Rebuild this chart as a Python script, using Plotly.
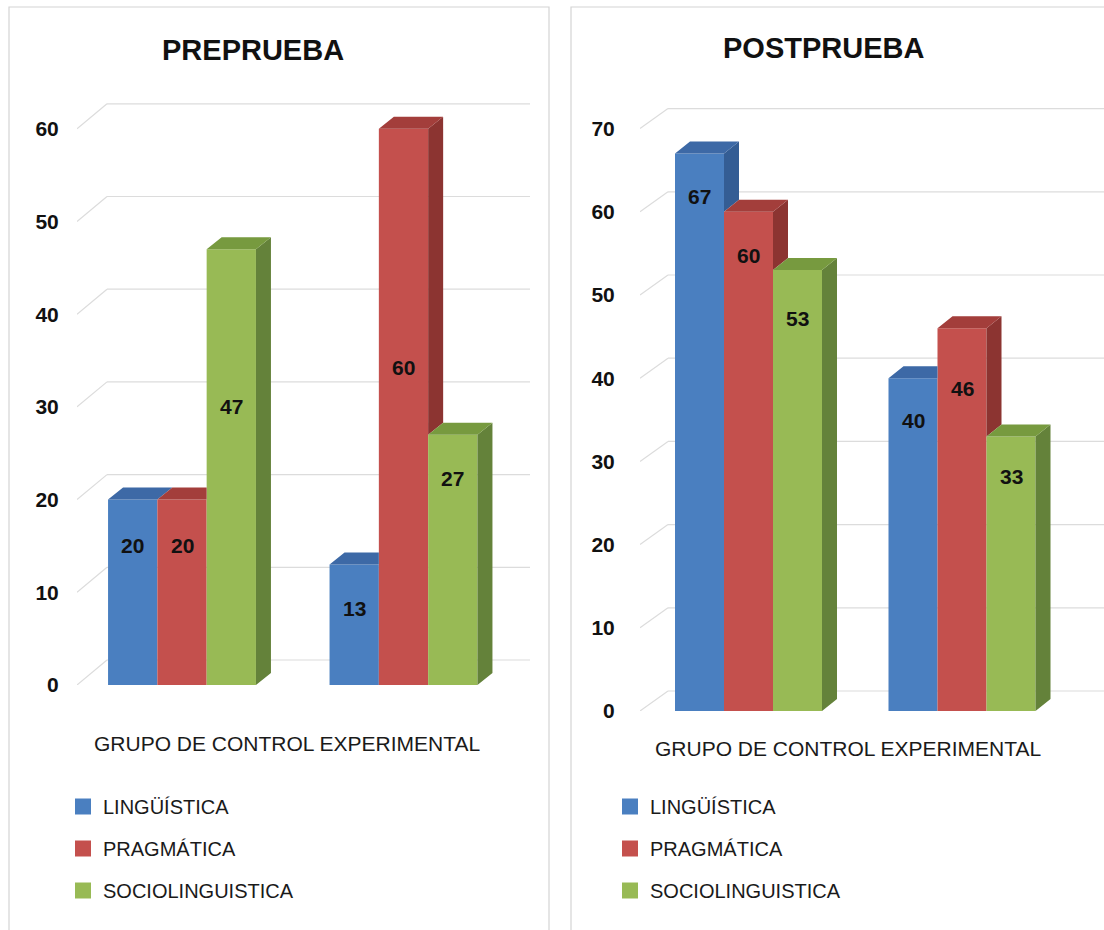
import plotly.graph_objects as go

# ---------------- data ----------------
groups = ["GRUPO DE CONTROL", "GRUPO EXPERIMENTAL"]
series = ["LINGÜÍSTICA", "PRAGMÁTICA", "SOCIOLINGUISTICA"]

pre_ling = [20, 13]
pre_prag = [20, 60]
pre_socio = [47, 27]

post_ling = [67, 40]
post_prag = [60, 46]
post_socio = [53, 33]

pre_ticks = [0, 10, 20, 30, 40, 50, 60]
post_ticks = [0, 10, 20, 30, 40, 50, 60, 70]

# vertical placement of the value labels (in axis units)
pre_label_pos = [[15.1, 8.3], [15.1, 34.2], [30.0, 22.3]]
post_label_pos = [[61.8, 34.9], [54.7, 38.8], [47.2, 28.2]]

# ---------------- style ----------------
front_col = ["#4A7FC0", "#C4504D", "#98BA55"]
top_col = ["#3D69A6", "#A33E3B", "#779A3F"]
side_col = ["#345D94", "#8C3431", "#64823A"]
FONT = "Liberation Sans, Arial, sans-serif"
W, H = 1104, 930


def pxx(p):
    return p / W


def pyy(p):
    return 1 - p / H


panels = [
    dict(key="pre", title="PREPRUEBA", values=[pre_ling, pre_prag, pre_socio],
         label_pos=pre_label_pos, ticks=pre_ticks, xa="x", ya="y", legend="legend",
         axis_px=77, right_px=530, g0_px=182, unit_px=221.5, base_px=685,
         vscale=9.27, top_px=95, bar_px=49.3, depth=(15, 12), wall=(30, 25),
         ticklen=13, title_xy=(253, 50), xtitle_xy=(287, 743), legend_xy=(63, 787)),
    dict(key="post", title="POSTPRUEBA", values=[post_ling, post_prag, post_socio],
         label_pos=post_label_pos, ticks=post_ticks, xa="x2", ya="y2", legend="legend2",
         axis_px=640, right_px=1104, g0_px=748.5, unit_px=213.5, base_px=711,
         vscale=8.32, top_px=85, bar_px=49.0, depth=(15, 12), wall=(28, 20),
         ticklen=20, title_xy=(823, 48), xtitle_xy=(848, 748), legend_xy=(610, 787)),
]

fig = go.Figure()
shapes = []
annotations = []
layout_axes = {}

for p in panels:
    u = p["unit_px"]
    vs = p["vscale"]
    xmin = (p["axis_px"] - p["g0_px"]) / u
    xmax = (p["right_px"] - p["g0_px"]) / u
    ymax = (p["base_px"] - p["top_px"]) / vs
    w = p["bar_px"] / u
    ddx = p["depth"][0] / u
    ddy = p["depth"][1] / vs
    wdx = p["wall"][0] / u
    wdy = p["wall"][1] / vs
    gx = list(range(len(groups)))

    xname = "xaxis" if p["xa"] == "x" else "xaxis2"
    yname = "yaxis" if p["ya"] == "y" else "yaxis2"
    layout_axes[xname] = dict(domain=[pxx(p["axis_px"]), pxx(p["right_px"])],
                              range=[xmin, xmax], showgrid=False, zeroline=False,
                              showticklabels=False, showline=False, fixedrange=True,
                              anchor=p["ya"])
    layout_axes[yname] = dict(domain=[pyy(p["base_px"]), pyy(p["top_px"])],
                              range=[0, ymax], tickvals=p["ticks"], showgrid=False,
                              zeroline=False, showline=False, ticks="outside",
                              ticklen=p["ticklen"], tickcolor="rgba(0,0,0,0)",
                              tickfont=dict(family=FONT, size=21, color="#111111", weight="bold"),
                              anchor=p["xa"], fixedrange=True)

    # back wall grid + floor diagonals
    for t in p["ticks"]:
        shapes.append(dict(type="line", xref=p["xa"], yref=p["ya"], layer="below",
                           x0=xmin + wdx, x1=xmax, y0=t + wdy, y1=t + wdy,
                           line=dict(color="#DCDCDC", width=1.2)))
        shapes.append(dict(type="line", xref=p["xa"], yref=p["ya"], layer="below",
                           x0=xmin, x1=xmin + wdx, y0=t, y1=t + wdy,
                           line=dict(color="#DCDCDC", width=1.2)))

    vals = p["values"]
    n = len(vals)
    for i in range(n):
        offs = (i - (n - 1) / 2) * w
        lg = f"{p['key']}_{i}"
        fig.add_trace(go.Bar(
            x=[g + offs for g in gx], y=vals[i], width=w, name=series[i],
            marker=dict(color=front_col[i], line=dict(width=0)),
            xaxis=p["xa"], yaxis=p["ya"], showlegend=False, legendgroup=lg,
            customdata=groups, hovertemplate="%{customdata}<br>" + series[i] + ": %{y}<extra></extra>"))

    # 3-D side and top faces
    for i in range(n):
        offs = (i - (n - 1) / 2) * w
        lg = f"{p['key']}_{i}"
        sx, sy, tx, ty = [], [], [], []
        for g in gx:
            v = vals[i][g]
            x0 = g + offs - w / 2
            x1 = g + offs + w / 2
            nxt = vals[i + 1][g] if i + 1 < n else 0
            if v > nxt:
                sx += [x1, x1 + ddx, x1 + ddx, x1, x1, None]
                sy += [nxt, nxt + ddy, v + ddy, v, nxt, None]
            if i + 1 < n and nxt >= v + ddy:
                tx += [x0, x0 + ddx, x1, x1, x0, None]
                ty += [v, v + ddy, v + ddy, v, v, None]
            else:
                tx += [x0, x0 + ddx, x1 + ddx, x1, x0, None]
                ty += [v, v + ddy, v + ddy, v, v, None]
        fig.add_trace(go.Scatter(x=sx, y=sy, fill="toself", fillcolor=side_col[i], mode="lines",
                                 line=dict(width=0, color=side_col[i]), xaxis=p["xa"], yaxis=p["ya"],
                                 showlegend=False, legendgroup=lg, hoverinfo="skip"))
        fig.add_trace(go.Scatter(x=tx, y=ty, fill="toself", fillcolor=top_col[i], mode="lines",
                                 line=dict(width=0, color=top_col[i]), xaxis=p["xa"], yaxis=p["ya"],
                                 showlegend=False, legendgroup=lg, hoverinfo="skip"))

    # legend entries
    for i in range(n):
        lg = f"{p['key']}_{i}"
        fig.add_trace(go.Scatter(x=[None], y=[None], mode="markers", name=series[i],
                                 marker=dict(symbol="square", size=16, color=front_col[i]),
                                 xaxis=p["xa"], yaxis=p["ya"], legend=p["legend"],
                                 legendgroup=lg, showlegend=True))

    # value labels
    for i in range(n):
        offs = (i - (n - 1) / 2) * w
        for g in gx:
            annotations.append(dict(x=g + offs, y=p["label_pos"][i][g], xref=p["xa"], yref=p["ya"],
                                    text=str(vals[i][g]), showarrow=False,
                                    font=dict(family=FONT, size=21, color="#111111", weight="bold")))

    annotations.append(dict(x=pxx(p["title_xy"][0]), y=pyy(p["title_xy"][1]), xref="paper", yref="paper",
                            text=p["title"], showarrow=False, xanchor="center", yanchor="middle",
                            font=dict(family=FONT, size=29, color="#111111", weight="bold")))
    annotations.append(dict(x=pxx(p["xtitle_xy"][0]), y=pyy(p["xtitle_xy"][1]), xref="paper", yref="paper",
                            text="GRUPO DE CONTROL EXPERIMENTAL", showarrow=False, xanchor="center",
                            yanchor="middle", font=dict(family=FONT, size=21, color="#1a1a1a")))

    layout_axes[p["legend"]] = dict(x=pxx(p["legend_xy"][0]), y=pyy(p["legend_xy"][1]),
                                    xanchor="left", yanchor="top", bgcolor="rgba(0,0,0,0)",
                                    borderwidth=0, itemsizing="trace", tracegroupgap=13,
                                    traceorder="grouped",
                                    font=dict(family=FONT, size=20, color="#1a1a1a"))

# panel frames
shapes.append(dict(type="rect", xref="paper", yref="paper", layer="below",
                   x0=pxx(9), x1=pxx(549), y0=pyy(945), y1=pyy(7),
                   line=dict(color="#D4D4D4", width=1.2)))
shapes.append(dict(type="rect", xref="paper", yref="paper", layer="below",
                   x0=pxx(571), x1=pxx(1115), y0=pyy(945), y1=pyy(7),
                   line=dict(color="#D4D4D4", width=1.2)))

fig.update_layout(
    width=W, height=H, margin=dict(l=0, r=0, t=0, b=0, autoexpand=False),
    paper_bgcolor="white", plot_bgcolor="rgba(0,0,0,0)",
    barmode="overlay", shapes=shapes, annotations=annotations,
    showlegend=True, font=dict(family=FONT), **layout_axes)

fig.write_html("out.html", config={"displayModeBar": False},
               post_script="document.body.style.margin='0px';")
